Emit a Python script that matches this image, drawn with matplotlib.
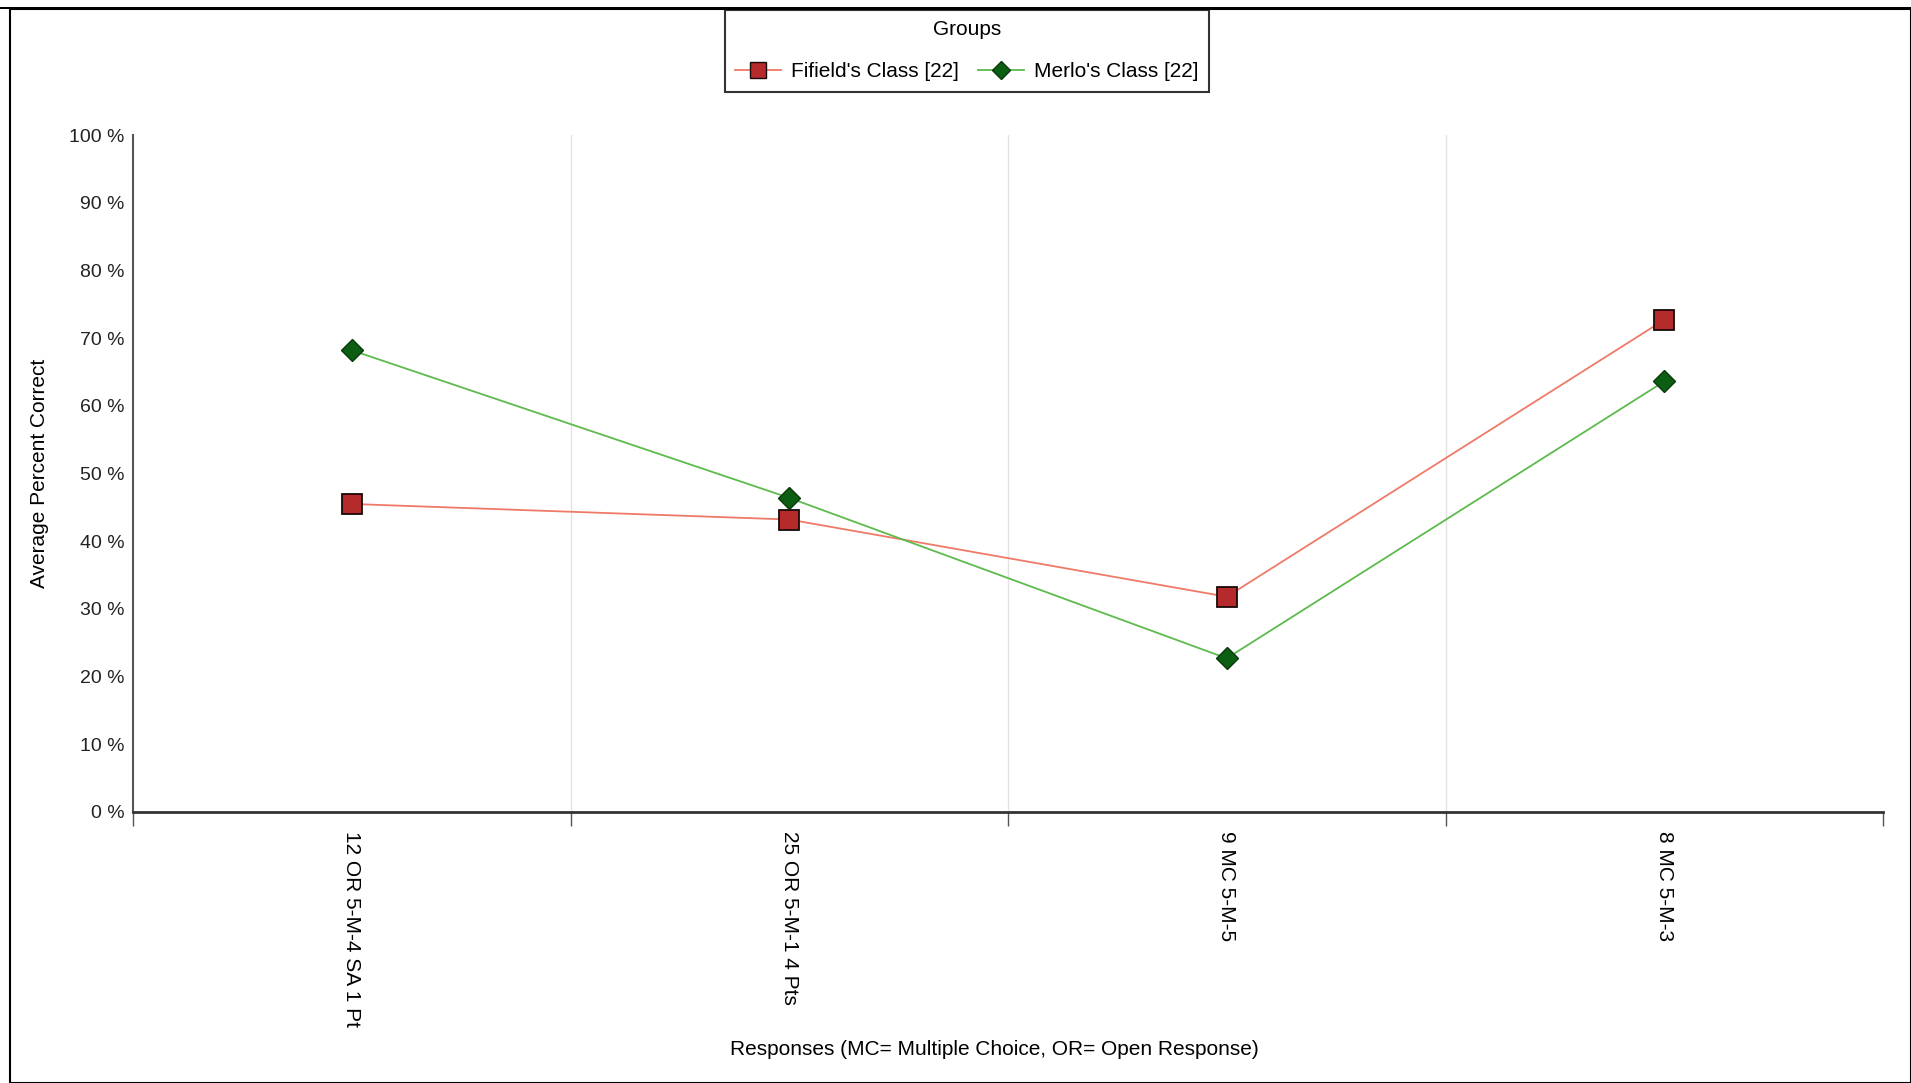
import matplotlib
matplotlib.use("Agg")
import matplotlib.pyplot as plt
from matplotlib.lines import Line2D
from matplotlib.patches import Rectangle

plt.rcParams['font.family'] = ['Liberation Sans', 'DejaVu Sans']

categories = ["12 OR 5-M-4 SA 1 Pt", "25 OR 5-M-1 4 Pts", "9 MC 5-M-5", "8 MC 5-M-3"]
fifield = [45.5, 43.2, 31.8, 72.7]
merlo = [68.2, 46.4, 22.7, 63.6]
series_names = ["Fifield's Class [22]", "Merlo's Class [22]"]
yticks = list(range(0, 101, 10))

fig = plt.figure(figsize=(19.11, 10.83), dpi=100)
W, H = 1911, 1083
ax = fig.add_axes([133 / W, 1 - 812 / H, (1883 - 133) / W, (812 - 135) / H])

x = list(range(len(categories)))
ax.plot(x, fifield, color='#f07a68', lw=1.3, marker='s', ms=14,
        mfc='#b52a2a', mec='#1a0a0a', mew=1.3, zorder=3)
ax.plot(x, merlo, color='#5cbb4c', lw=1.3, marker='D', ms=11,
        mfc='#0b5e12', mec='#0a3a0a', mew=1.0, zorder=3)

ax.set_xlim(-0.5, len(categories) - 0.5)
ax.set_ylim(0, 100)
ax.set_yticks(yticks)
ax.set_yticklabels([f"{v} %" for v in yticks], fontsize=14, color='#222222')
ax.tick_params(axis='y', length=0, pad=6)

ax.set_xticks(x)
ax.set_xticklabels(categories, rotation=270, fontsize=15, va='top', ha='center')
ax.tick_params(axis='x', which='major', length=0, pad=14)
bounds = [i - 0.5 for i in range(len(categories) + 1)]
ax.set_xticks(bounds, minor=True)
ax.tick_params(axis='x', which='minor', length=10, width=1, color='#555555')
for b in bounds[1:-1]:
    ax.axvline(b, color='#e3e3e3', lw=1, zorder=0)

for s in ['top', 'right']:
    ax.spines[s].set_visible(False)
ax.spines['left'].set_color('#555555')
ax.spines['left'].set_linewidth(1.5)
ax.spines['bottom'].set_color('#333333')
ax.spines['bottom'].set_linewidth(2)

ax.set_ylabel("Average Percent Correct", fontsize=15)
ax.yaxis.set_label_coords(-84 / 1750, 0.5)
ax.set_xlabel("Responses (MC= Multiple Choice, OR= Open Response)", fontsize=15)
ax.xaxis.set_label_coords(0.492, -(1040 - 812) / 677)

handles = [
    Line2D([0], [0], color='#f07a68', lw=1.3, marker='s', ms=12, mfc='#b52a2a', mec='#1a0a0a'),
    Line2D([0], [0], color='#5cbb4c', lw=1.3, marker='D', ms=9, mfc='#0b5e12', mec='#0a3a0a'),
]
leg = fig.legend(handles, series_names, title="Groups", loc='upper center',
                 bbox_to_anchor=(967 / W, 1 - 10 / H), ncol=2, fontsize=15,
                 title_fontsize=15, frameon=True, fancybox=False, edgecolor='black',
                 handlelength=2.2, columnspacing=0.9, handletextpad=0.5,
                 borderpad=0.5, labelspacing=1.1, borderaxespad=0)
leg.get_frame().set_linewidth(1.5)

# outer border
fig.patches.append(Rectangle((10 / W, 0), 1 - 10 / W, 1 - 9 / H, transform=fig.transFigure,
                             fill=False, edgecolor='black', lw=1.5))
fig.patches.append(Rectangle((0, 1 - 9 / H), 1, 2 / H, transform=fig.transFigure,
                             facecolor='black', edgecolor='none'))

fig.savefig("out.png", dpi=100)
